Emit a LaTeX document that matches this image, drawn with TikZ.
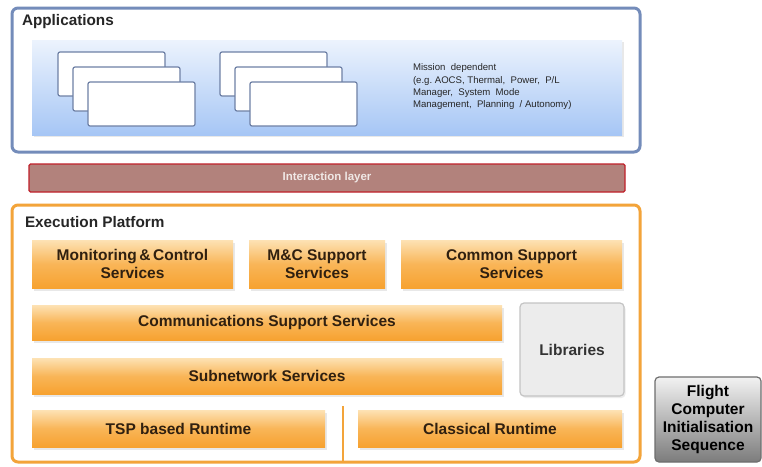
\documentclass[tikz,border=0pt]{standalone}
\usepackage{fontspec}
\setmainfont{Liberation Sans}
\usetikzlibrary{shadows}
\definecolor{appborder}{RGB}{116,140,186}
\definecolor{paneltop}{RGB}{236,243,253}
\definecolor{panelbot}{RGB}{166,198,245}
\definecolor{wborder}{RGB}{110,128,165}
\definecolor{ilfill}{RGB}{178,130,124}
\definecolor{ilborder}{RGB}{192,32,42}
\definecolor{ilText}{RGB}{240,232,230}
\definecolor{oborder}{RGB}{243,164,58}
\definecolor{otop}{RGB}{253,226,180}
\definecolor{obot}{RGB}{247,162,48}
\definecolor{otext}{RGB}{48,32,16}
\definecolor{libfill}{RGB}{236,236,236}
\definecolor{libborder}{RGB}{196,196,196}
\definecolor{gtop}{RGB}{242,242,242}
\definecolor{gbot}{RGB}{124,124,124}
\definecolor{gborder}{RGB}{110,110,110}
\tikzset{
  every node/.style={outer sep=0pt, inner sep=0pt},
  nw/.style={anchor=north west},
  frame/.style={nw, rounded corners=6pt, line width=3pt, fill=white},
  title/.style={anchor=west, font=\bfseries\fontsize{15.3}{18}\selectfont, text=black!85},
  panel/.style={nw, top color=paneltop, bottom color=panelbot, minimum width=590pt, minimum height=95pt,
    drop shadow={opacity=0.18, shadow xshift=1.5pt, shadow yshift=-2pt}},
  wbox/.style={nw, draw=wborder, fill=white, rounded corners=2pt, line width=1.2pt, minimum width=107pt, minimum height=44pt},
  obox/.style={nw, top color=otop, bottom color=obot, middle color=obot!70!otop,
    font=\bfseries\fontsize{15.5}{18}\selectfont, text=otext, align=center,
    drop shadow={opacity=0.18, shadow xshift=1.5pt, shadow yshift=-2.5pt}},
}
\begin{document}
\begin{tikzpicture}[x=1pt,y=-1pt]
\useasboundingbox[fill=white] (0,0) rectangle (762,466);
% Applications
\node[frame, draw=appborder, minimum width=628pt, minimum height=144pt] (app) at (12,8) {};
\node[title] (apptitle) at (22,22) {Applications};
\node[panel] (panel) at (32,40) {};
\node[wbox] (a1) at (58,52) {};
\node[wbox] (a2) at (73,67) {};
\node[wbox] (a3) at (88,82) {};
\node[wbox] (b1) at (220,52) {};
\node[wbox] (b2) at (235,67) {};
\node[wbox] (b3) at (250,82) {};
\node[nw, align=left, font=\fontsize{9.6}{12.3}\selectfont, text=black!85] (mission) at (413,64)
  {Mission\ \ dependent\\(e.g.\ AOCS,\ Thermal,\ \ Power,\ \ P/L\\Manager,\ \ System\ \ Mode\\Management,\ \ Planning\ \ /\ Autonomy)};
% Interaction layer
\node[nw, fill=ilfill, draw=ilborder, line width=1.3pt, rounded corners=1.5pt, minimum width=596pt, minimum height=28pt,
  font=\bfseries\fontsize{11.5}{13}\selectfont, text=ilText] (il) at (29,164) {Interaction layer};
% Execution platform
\node[frame, draw=oborder, minimum width=628pt, minimum height=257pt] (ep) at (12,205) {};
\node[title] (eptitle) at (25,222) {Execution Platform};
\node[obox, minimum width=201pt, minimum height=48pt] (mcs) at (32,240) {Monitoring\,\&\,Control\\Services};
\node[obox, minimum width=136pt, minimum height=48pt] (mcss) at (249,240) {M\&C Support\\Services};
\node[obox, minimum width=221pt, minimum height=48pt] (css) at (401,240) {Common Support\\Services};
\node[obox, minimum width=470pt, minimum height=35pt] (comm) at (32,305) {Communications Support Services};
\node[obox, minimum width=470pt, minimum height=36pt] (subnet) at (32,358) {Subnetwork Services};
\node[nw, fill=libfill, draw=libborder, line width=1.2pt, rounded corners=4pt, minimum width=104pt, minimum height=93pt,
  font=\bfseries\fontsize{15.5}{18}\selectfont, text=black!80,
  drop shadow={opacity=0.15, shadow xshift=1.5pt, shadow yshift=-2pt}] (lib) at (520,303) {Libraries};
\node[obox, minimum width=293pt, minimum height=37pt] (tsp) at (32,410) {TSP based Runtime};
\node[obox, minimum width=264pt, minimum height=37pt] (classic) at (358,410) {Classical Runtime};
\coordinate (septop) at (343,406);
\draw[oborder, line width=2.5pt] (septop) -- (septop |- ep.south);
% Flight computer initialisation sequence
\node[nw, top color=gtop, bottom color=gbot, draw=gborder, line width=1.2pt, rounded corners=4pt,
  minimum width=106pt, minimum height=85pt, align=center,
  font=\bfseries\fontsize{15.5}{18}\selectfont, text=black] (fcis) at (655,377)
  {Flight\\Computer\\Initialisation\\Sequence};
\end{tikzpicture}
\end{document}
